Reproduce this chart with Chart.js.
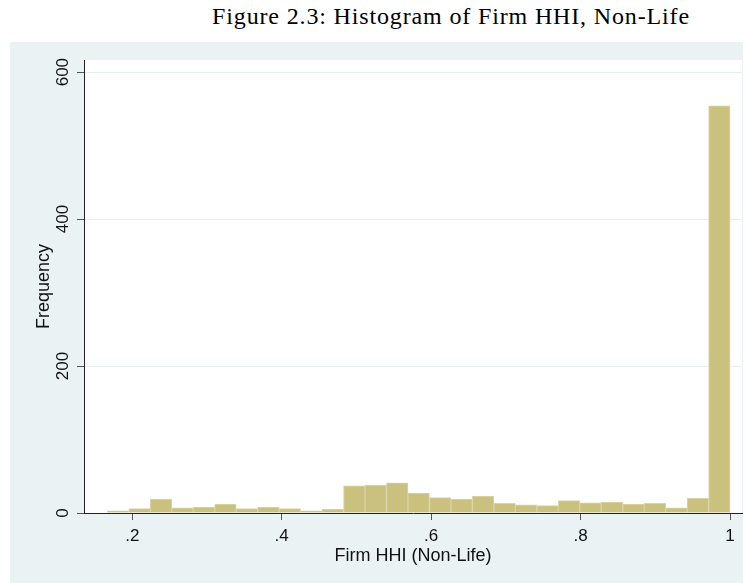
<!DOCTYPE html>
<html>
<head>
<meta charset="utf-8">
<title>Histogram of Firm HHI, Non-Life</title>
<script src="https://cdn.jsdelivr.net/npm/chart.js@4.4.1/dist/chart.umd.min.js"></script>
<style>
    html, body { margin: 0; padding: 0; background: #fff; }
    #wrap { position: relative; width: 746px; height: 583px; }
    #caption {
        position: absolute; left: 151px; top: 3px; width: 600px;
        text-align: center; white-space: nowrap;
        font-family: 'Liberation Serif', serif; font-size: 24px; letter-spacing: 0.85px; color: #000;
    }
    #chart { position: absolute; left: 0; top: 42px; }
</style>
</head>
<body>
<div id="wrap">
    <div id="caption">Figure 2.3: Histogram of Firm HHI, Non-Life</div>
    <canvas id="chart" width="746" height="541"></canvas>
</div>
<script>
// histogram bins (Stata style, 29 bins ending at 1)
const BIN_START = 0.1666;
const BIN_WIDTH = 0.02874;
const COUNTS = [3, 6, 19, 7, 8, 12, 6, 8, 6, 3, 5, 37, 38, 41, 27, 21, 19, 23, 13, 11, 10, 17, 14, 15, 12, 13, 7, 20, 554];

const X_TICKS = [0.2, 0.4, 0.6, 0.8, 1];
const Y_TICKS = [0, 200, 400, 600];
const X_MIN = 0.1354, X_MAX = 1.016;
const Y_MAX = 616.5;

const PANEL_BG = '#EAF2F3';
const BAR_FILL = '#CAC17F';
const BAR_EDGE = '#DAD4A5';
const FONT = 'Liberation Sans, Arial, sans-serif';

const points = COUNTS.map((c, i) => ({ x: BIN_START + (i + 0.5) * BIN_WIDTH, y: c }));

const panelPlugin = {
    id: 'panel',
    beforeDraw(chart) {
        const { ctx, chartArea: a } = chart;
        ctx.save();
        ctx.fillStyle = PANEL_BG;
        ctx.fillRect(10, 0, 733, chart.height);
        ctx.fillStyle = '#fff';
        ctx.fillRect(a.left, a.top, a.right - a.left, a.bottom - a.top);
        ctx.restore();
    }
};

// Stata draws y labels turned 90 degrees
const yLabelPlugin = {
    id: 'yLabels',
    afterDraw(chart) {
        const { ctx } = chart;
        const y = chart.scales.y;
        ctx.save();
        ctx.fillStyle = '#111';
        ctx.font = '17px ' + FONT;
        ctx.textAlign = 'center';
        ctx.textBaseline = 'middle';
        y.ticks.forEach(t => {
            ctx.save();
            ctx.translate(63, y.getPixelForValue(t.value));
            ctx.rotate(-Math.PI / 2);
            ctx.fillText(String(t.value), 0, 0);
            ctx.restore();
        });
        ctx.restore();
    }
};

new Chart(document.getElementById('chart'), {
    type: 'bar',
    data: {
        datasets: [{
            data: points,
            backgroundColor: BAR_FILL,
            borderColor: BAR_EDGE,
            borderWidth: 1,
            barPercentage: 1,
            categoryPercentage: 1
        }]
    },
    options: {
        responsive: false,
        animation: false,
        layout: { padding: { left: 0, right: 4, top: 18, bottom: 0 } },
        plugins: { legend: { display: false }, tooltip: { enabled: false } },
        scales: {
            x: {
                type: 'linear',
                offset: false,
                min: X_MIN,
                max: X_MAX,
                afterBuildTicks: s => { s.ticks = X_TICKS.map(v => ({ value: v })); },
                afterFit: s => { s.height = 70; },
                grid: { offset: false, drawOnChartArea: false, drawTicks: true, tickLength: 7, tickColor: '#555' },
                border: { display: true, color: '#222', width: 1 },
                ticks: {
                    color: '#111',
                    font: { family: FONT, size: 17 },
                    padding: 6,
                    maxRotation: 0,
                    callback: v => v === 1 ? '1' : String(v).replace(/^0/, '')
                },
                title: {
                    display: true,
                    text: 'Firm HHI (Non-Life)',
                    color: '#111',
                    font: { family: FONT, size: 18 },
                    padding: { top: 0, bottom: 16 }
                }
            },
            y: {
                min: 0,
                max: Y_MAX,
                afterBuildTicks: s => { s.ticks = Y_TICKS.map(v => ({ value: v })); },
                afterFit: s => { s.width = 84; },
                grid: {
                    color: c => c.tick && c.tick.value === 0 ? 'rgba(0,0,0,0)' : '#E4EDEF',
                    drawTicks: true,
                    tickLength: 7,
                    tickColor: '#555'
                },
                border: { display: true, color: '#222', width: 1 },
                ticks: { display: false },
                title: {
                    display: true,
                    text: 'Frequency',
                    color: '#111',
                    font: { family: FONT, size: 18 },
                    padding: { top: 33, bottom: 0 }
                }
            }
        }
    },
    plugins: [panelPlugin, yLabelPlugin]
});
</script>
</body>
</html>
